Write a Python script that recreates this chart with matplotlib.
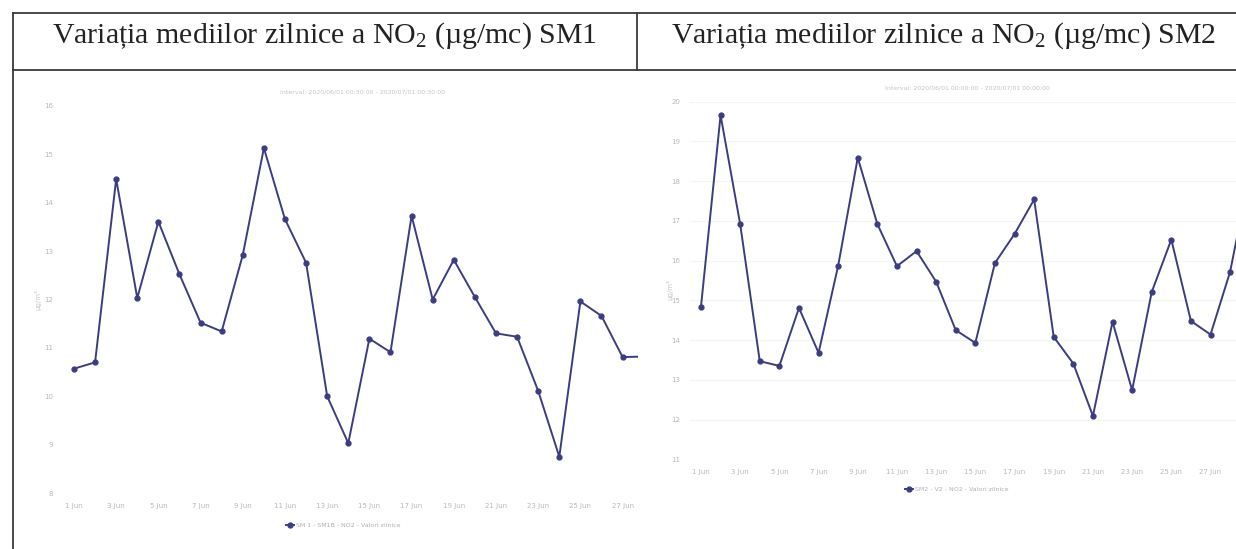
import matplotlib
matplotlib.use("Agg")
import matplotlib.pyplot as plt
from matplotlib.lines import Line2D

# daily means of NO2, June 2020 (image is cropped on the right)
days_sm1 = list(range(1, 30))
sm1 = [10.57, 10.70, 14.49, 12.03, 13.61, 12.52, 11.52, 11.34, 12.92, 15.13,
       13.66, 12.76, 10.00, 9.03, 11.19, 10.91, 13.73, 12.00, 12.82, 12.05,
       11.30, 11.23, 10.11, 8.75, 11.96, 11.66, 10.81, 10.82, 11.55]

days_sm2 = list(range(1, 30))
sm2 = [14.84, 19.66, 16.92, 13.47, 13.35, 14.81, 13.68, 15.87, 18.59, 16.92,
       15.86, 16.24, 15.47, 14.25, 13.93, 15.94, 16.67, 17.54, 14.08, 13.41,
       12.09, 14.46, 12.74, 15.21, 16.53, 14.48, 14.14, 15.72, 18.20]

tick_days = list(range(1, 28, 2))
tick_labels = ["%d Jun" % d for d in tick_days]

headers = ["Variația mediilor zilnice a NO$_2$ (µg/mc) SM1",
           "Variația mediilor zilnice a NO$_2$ (µg/mc) SM2"]
subtitles = ["Interval: 2020/06/01 00:30:00 - 2020/07/01 00:30:00",
             "Interval: 2020/06/01 00:00:00 - 2020/07/01 00:00:00"]
legends = ["SM 1 - SM1B - NO2 - Valori zilnice",
           "SM2 - V2 - NO2 - Valori zilnice"]

plt.rcParams["mathtext.fontset"] = "custom"
plt.rcParams["mathtext.rm"] = "Liberation Serif"
plt.rcParams["mathtext.it"] = "Liberation Serif:italic"

W, H = 1236, 549
fig = plt.figure(figsize=(W / 100, H / 100), dpi=100)
fig.patch.set_facecolor("white")

def px(x, y):
    return x / W, 1 - y / H

# table borders
border = "#3a3a3a"
for (x0, y0), (x1, y1) in [((13, 13), (1236, 13)), ((13, 70), (1236, 70)),
                           ((13, 13), (13, 549)), ((637, 13), (637, 70))]:
    a, b = px(x0, y0)
    c, d = px(x1, y1)
    fig.add_artist(Line2D([a, c], [b, d], color=border, lw=1.3))

for txt, xc in zip(headers, [324, 943]):
    fig.text(*px(xc, 36), txt, ha="center", va="center",
             family="Liberation Serif", fontsize=21.5, color="#222222")

line_col = "#3c3c82"
grey = "#b8b8b8"

def panel(rect, days, vals, ylim, xlim, sub, leg, sub_xy, leg_xy, ylab_xy, grid):
    x0, y0, x1, y1 = rect
    ax = fig.add_axes([x0 / W, 1 - y1 / H, (x1 - x0) / W, (y1 - y0) / H])
    ax.plot(days, vals, color=line_col, lw=1.4, marker="o", ms=3.5,
            label=leg)
    ax.set_xlim(*xlim)
    ax.set_ylim(*ylim)
    ax.set_yticks(range(ylim[0], ylim[1] + 1))
    ax.set_xticks(tick_days)
    ax.set_xticklabels(tick_labels)
    ax.tick_params(length=0, labelsize=5, labelcolor=grey, pad=7)
    for s in ax.spines.values():
        s.set_visible(False)
    if grid:
        ax.grid(axis="y", color="#f3f3f3", lw=0.8)
        ax.set_axisbelow(True)
    ax.patch.set_alpha(0)
    fig.text(*px(*sub_xy), sub, ha="center", va="center", fontsize=4.5,
             color="#c4c4c4")
    fig.text(*px(*ylab_xy), "µg/m³", ha="center", va="center", fontsize=5,
             color="#c8c8c8", rotation=90)
    fig.legend(handles=ax.get_lines(), loc="center left",
               bbox_to_anchor=px(*leg_xy), frameon=False, fontsize=4.5,
               labelcolor="#b0b0b0", handlelength=1.2, handletextpad=0.4,
               borderaxespad=0, borderpad=0)
    return ax

panel((63, 106, 638, 493), days_sm1, sm1, (8, 16), (0.48, 27.73),
      subtitles[0], legends[0], (363, 92), (286, 525), (38, 300), False)
panel((690, 101.7, 1236, 459.3), days_sm2, sm2, (11, 20), (0.44, 28.3),
      subtitles[1], legends[1], (967, 88), (905, 489), (670, 290), True)

fig.savefig("out.png", dpi=100, facecolor="white")
